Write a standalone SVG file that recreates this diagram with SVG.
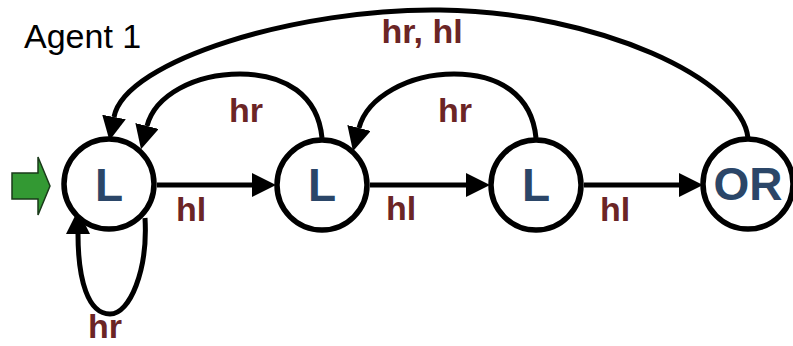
<svg xmlns="http://www.w3.org/2000/svg" width="793" height="346" viewBox="0 0 793 346">
<style>
.edge{fill:none;stroke:#000;stroke-width:5;marker-end:url(#ah)}
.node{fill:#fff;stroke:#000;stroke-width:5.5}
.nl{font-family:"Liberation Sans",Arial,sans-serif;font-weight:bold;font-size:46px;fill:#2b4668;text-anchor:middle}
.el{font-family:"Liberation Sans",Arial,sans-serif;font-weight:bold;font-size:34px;fill:#6b2525;text-anchor:middle}
.title{font-family:"Liberation Sans",Arial,sans-serif;font-size:34px;fill:#000}
</style>
<defs>
<marker id="ah" markerUnits="userSpaceOnUse" markerWidth="24" markerHeight="24" refX="0" refY="11" orient="auto" viewBox="0 0 22 22">
<path d="M0,0 L22,11 L0,22 z" fill="#000"/>
</marker>
</defs>
<rect width="793" height="346" fill="#fff"/>
<text class="title" x="24" y="48">Agent 1</text>
<g id="start">
<path d="M12,173 L38,173 L38,157 L50,186 L38,215 L38,199 L12,199 z" fill="#339933" stroke="#1a3a1a" stroke-width="1.5"/>
</g>
<g id="connectors">
<path class="edge" d="M157,185 L252,185"/>
<path class="edge" d="M370,185 L466,185"/>
<path class="edge" d="M584,185 L679,185"/>
<path class="edge" d="M322,138 C318,95 285,74 240,74 C195,74 155,95 147,126"/>
<path class="edge" d="M536,138 C532,95 499,74 454,74 C409,74 367,97 359,128"/>
<path class="edge" d="M748,138 C742,80 600,12 440,10 C300,8 125,60 114,117"/>
<path class="edge" d="M145,218 C148,270 130,314 110,314 C88,314 78,280 78,234"/>
</g>
<g id="node1"><circle class="node" cx="109" cy="184" r="45"/><text class="nl" x="109" y="201">L</text></g>
<g id="node2"><circle class="node" cx="322" cy="185" r="45"/><text class="nl" x="322" y="201">L</text></g>
<g id="node3"><circle class="node" cx="536" cy="185" r="45"/><text class="nl" x="536" y="201">L</text></g>
<g id="node4"><circle class="node" cx="748" cy="184" r="45"/><text class="nl" x="748" y="200">OR</text></g>
<g id="labels">
<text class="el" x="422" y="43">hr, hl</text>
<text class="el" x="246" y="122">hr</text>
<text class="el" x="455" y="122">hr</text>
<text class="el" x="191" y="221">hl</text>
<text class="el" x="401" y="220">hl</text>
<text class="el" x="615" y="221">hl</text>
<text class="el" x="105" y="338">hr</text>
</g>
</svg>
